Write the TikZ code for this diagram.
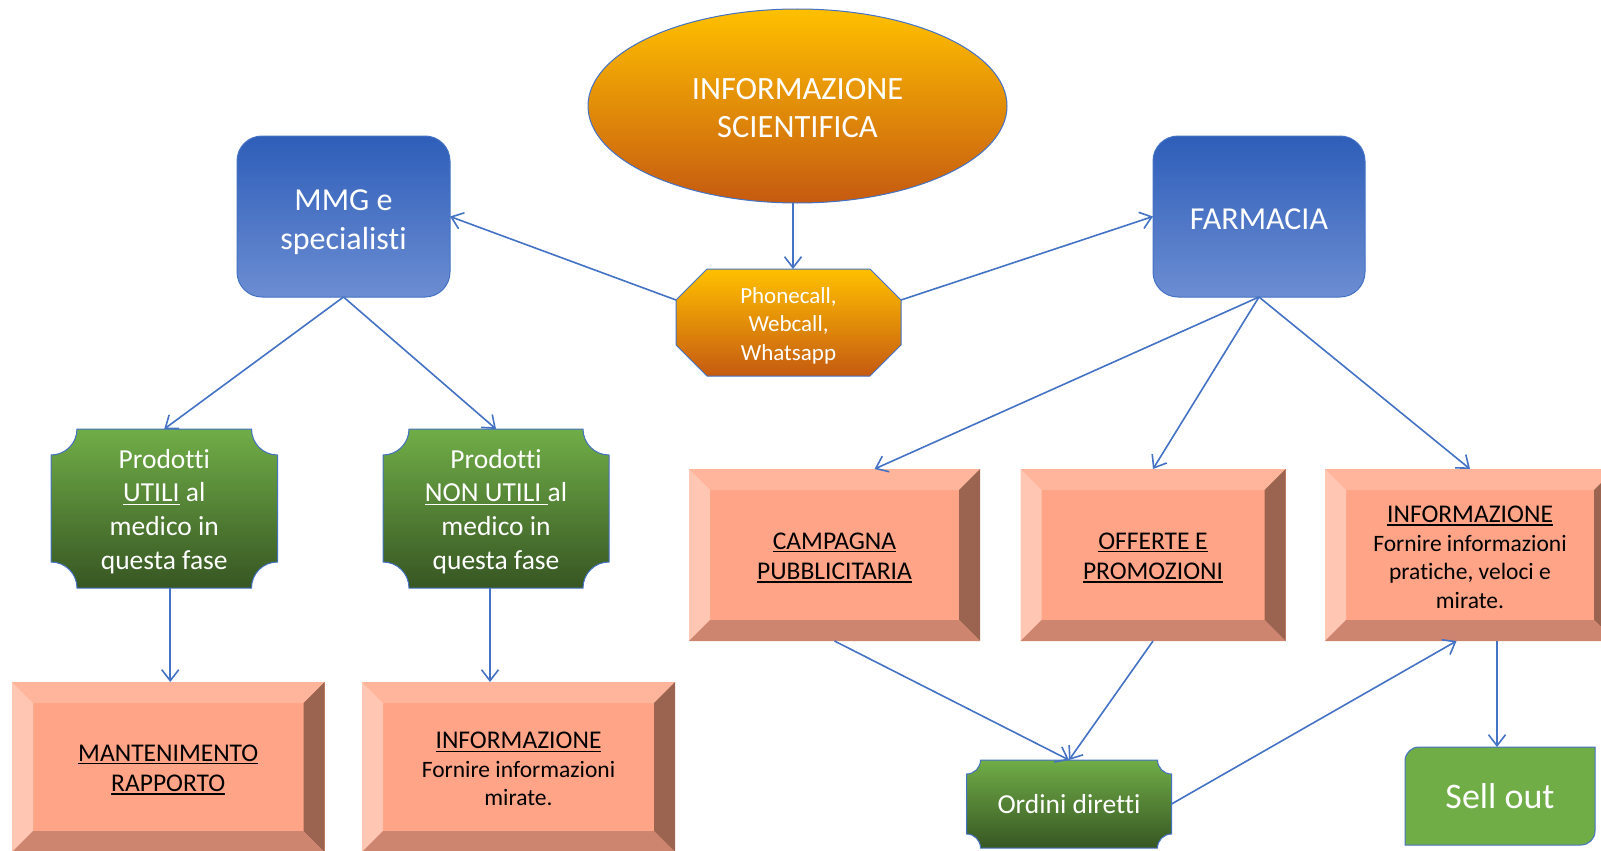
\documentclass[tikz,border=0pt]{standalone}
\usepackage{fontspec}
\setmainfont[Ligatures=CommonOff]{Carlito}
\newcommand\myul[1]{\setbox0\hbox{#1}\rlap{\rule[-3.2pt]{\wd0}{1.3pt}}\box0\relax}
\newcommand\lowr[1]{\setbox2\hbox{Pdl}\rule{0pt}{\dimexpr\ht2+2\dimexpr#1\relax\relax}}
\usetikzlibrary{shapes.geometric,arrows.meta,calc}
\pgfdeclarelayer{background}
\pgfdeclarelayer{canvasbg}
\pgfsetlayers{canvasbg,background,main}
\definecolor{lineblue}{HTML}{4472C4}
\definecolor{goldtop}{HTML}{FFC000}
\definecolor{orangebot}{HTML}{C55A11}
\definecolor{bluetop}{HTML}{2E5EB9}
\definecolor{bluebot}{HTML}{6C8DD2}
\definecolor{greentop}{HTML}{70AD47}
\definecolor{greenbot}{HTML}{375623}
\definecolor{bface}{HTML}{FFA487}
\definecolor{btop}{HTML}{FFB59B}
\definecolor{bleft}{HTML}{FFC7B3}
\definecolor{bright}{HTML}{9A6451}
\definecolor{bbot}{HTML}{CD8570}
\newcommand\concavebox[2]{%
 \begin{pgfonlayer}{background}
 \path[top color=greentop,bottom color=greenbot,draw=lineblue,line width=1pt]
  ([xshift=#2]#1.north west) -- ([xshift=-#2]#1.north east)
  arc[start angle=180,end angle=270,radius=#2]
  -- ([yshift=#2]#1.south east)
  arc[start angle=90,end angle=180,radius=#2]
  -- ([xshift=#2]#1.south west)
  arc[start angle=0,end angle=90,radius=#2]
  -- ([yshift=-#2]#1.north west)
  arc[start angle=270,end angle=360,radius=#2] -- cycle;
 \end{pgfonlayer}}
\tikzset{
 arr/.style={draw=lineblue, line width=1.6pt, -{Straight Barb[length=11pt,width=17pt]}},
 plain/.style={rectangle, inner sep=0pt, outer sep=0pt, align=center, text=white},
 bluebox/.style={plain, rounded corners=25pt, top color=bluetop, bottom color=bluebot,
   draw=lineblue, line width=1pt, font=\fontsize{32}{39}\selectfont},
 bevelbox/.style={rectangle, inner sep=0pt, outer sep=0pt, align=center, text=black, fill=bface,
   path picture={
    \coordinate (tl) at (path picture bounding box.north west);
    \coordinate (br) at (path picture bounding box.south east);
    \coordinate (tr) at (path picture bounding box.north east);
    \coordinate (bl) at (path picture bounding box.south west);
    \fill[btop] (tl) -- (tr) -- ([shift={(-21pt,-21pt)}]tr) -- ([shift={(21pt,-21pt)}]tl) -- cycle;
    \fill[bleft] (tl) -- ([shift={(21pt,-21pt)}]tl) -- ([shift={(21pt,21pt)}]bl) -- (bl) -- cycle;
    \fill[bright] (tr) -- ([shift={(-21pt,-21pt)}]tr) -- ([shift={(-21pt,21pt)}]br) -- (br) -- cycle;
    \fill[bbot] (bl) -- ([shift={(21pt,21pt)}]bl) -- ([shift={(-21pt,21pt)}]br) -- (br) -- cycle;
   }},
 captxt/.style={font=\fontsize{25.5}{30.5}\selectfont},
 infotxt/.style={font=\fontsize{23.5}{28.5}\selectfont},
}
\begin{document}
\begin{tikzpicture}[x=1pt,y=-1pt]
\useasboundingbox (0,0) rectangle (1601,851);
\begin{pgfonlayer}{canvasbg}
\fill[white] (0,0) rectangle (1601,851);
\end{pgfonlayer}

% top
\node[ellipse, inner sep=0pt, outer sep=0pt, minimum width=419pt, minimum height=194pt,
  top color=goldtop, bottom color=orangebot, draw=lineblue, line width=1pt,
  text=white, align=center, font=\fontsize{32.5}{38.5}\selectfont] (ell) at (797.5,106)
  {\lowr{1.5pt}INFORMAZIONE\\SCIENTIFICA};

\node[plain, minimum width=225pt, minimum height=107pt, font=\fontsize{23}{28.5}\selectfont]
  (phone) at (788.5,322.5) {\lowr{3pt}Phonecall,\\Webcall,\\Whatsapp};
\begin{pgfonlayer}{background}
\path[top color=goldtop,bottom color=orangebot,draw=lineblue,line width=1pt]
  ([xshift=31pt]phone.north west) -- ([xshift=-31pt]phone.north east)
  -- ([yshift=-31pt]phone.north east) -- ([yshift=31pt]phone.south east)
  -- ([xshift=-31pt]phone.south east) -- ([xshift=31pt]phone.south west)
  -- ([yshift=31pt]phone.south west) -- ([yshift=-31pt]phone.north west) -- cycle;
\end{pgfonlayer}

\node[bluebox, minimum width=213pt, minimum height=161pt] (mmg) at (343.5,216.5) {\lowr{4.5pt}MMG e\\specialisti};
\node[bluebox, minimum width=212pt, minimum height=161pt] (farm) at (1259,216.5) {\lowr{2pt}FARMACIA};

% green concave boxes
\node[plain, minimum width=226.5pt, minimum height=159pt, font=\fontsize{27.5}{33.7}\selectfont]
  (prodL) at (164.25,508.5) {\lowr{3pt}Prodotti\\\myul{UTILI} al\\medico in\\questa fase};
\concavebox{prodL}{26pt}
\node[plain, minimum width=226pt, minimum height=159pt, font=\fontsize{27.5}{33.7}\selectfont]
  (prodR) at (496,508.5) {\lowr{3pt}Prodotti\\\myul{NON UTILI\ }al\\medico in\\questa fase};
\concavebox{prodR}{26pt}

% bevel boxes
\node[bevelbox, captxt, minimum width=312.5pt, minimum height=170pt] (mant) at (168.25,767)
  {\lowr{2pt}\myul{MANTENIMENTO}\\\myul{RAPPORTO}};
\node[bevelbox, infotxt, minimum width=313pt, minimum height=170pt] (infoL) at (518.5,767)
  {{\fontsize{25.5}{28.5}\selectfont\lowr{1.5pt}\myul{INFORMAZIONE}}\\Fornire informazioni\\mirate.};
\node[bevelbox, captxt, minimum width=291pt, minimum height=172pt] (camp) at (834.5,555)
  {\lowr{2pt}\myul{CAMPAGNA}\\\myul{PUBBLICITARIA}};
\node[bevelbox, captxt, minimum width=265pt, minimum height=172pt] (offer) at (1153,555)
  {\lowr{2pt}\myul{OFFERTE E}\\\myul{PROMOZIONI}};
\node[bevelbox, infotxt, minimum width=290pt, minimum height=172pt] (info) at (1470,555)
  {{\fontsize{25.5}{28.5}\selectfont\lowr{1.5pt}\myul{INFORMAZIONE}}\\Fornire informazioni\\pratiche, veloci e\\mirate.};

% bottom green
\node[plain, minimum width=205pt, minimum height=88pt, font=\fontsize{27.5}{33}\selectfont]
  (ordini) at (1069,804) {Ordini diretti};
\concavebox{ordini}{14pt}
\node[plain, minimum width=190pt, minimum height=98pt, font=\fontsize{36}{40}\selectfont]
  (sell) at (1500,796) {Sell out};
\begin{pgfonlayer}{background}
\path[fill=greentop,draw=lineblue,line width=1pt]
  ([yshift=-14pt]sell.north west) arc[start angle=180,end angle=90,radius=14pt]
  -- (sell.north east) -- ([yshift=14pt]sell.south east)
  arc[start angle=0,end angle=-90,radius=14pt]
  -- (sell.south west) -- cycle;
\end{pgfonlayer}

% connectors
\coordinate (eS) at ([xshift=-4.5pt]ell.south);
\draw[arr] (eS) -- (eS |- phone.north);
\draw[arr] ([yshift=22.5pt]phone.west) -- (mmg.east);
\draw[arr] ([yshift=22.5pt]phone.east) -- (farm.west);
\draw[arr] (mmg.south) -- (prodL.north);
\draw[arr] (mmg.south) -- (prodR.north);
\draw[arr] (farm.south) -- ([xshift=40pt]camp.north);
\draw[arr] (farm.south) -- (offer.north);
\draw[arr] (farm.south) -- (info.north);
\coordinate (pLs) at ([xshift=6pt]prodL.south);
\draw[arr] (pLs) -- (pLs |- mant.north);
\coordinate (pRs) at ([xshift=-6pt]prodR.south);
\draw[arr] (pRs) -- (pRs |- infoL.north);
\draw[arr] (camp.south) -- (ordini.north);
\draw[arr] (offer.south) -- (ordini.north);
\draw[arr] (ordini.east) -- ([xshift=-13.5pt]info.south);
\coordinate (iS) at ([xshift=27pt]info.south);
\draw[arr] (iS) -- (iS |- sell.north);
\end{tikzpicture}
\end{document}
